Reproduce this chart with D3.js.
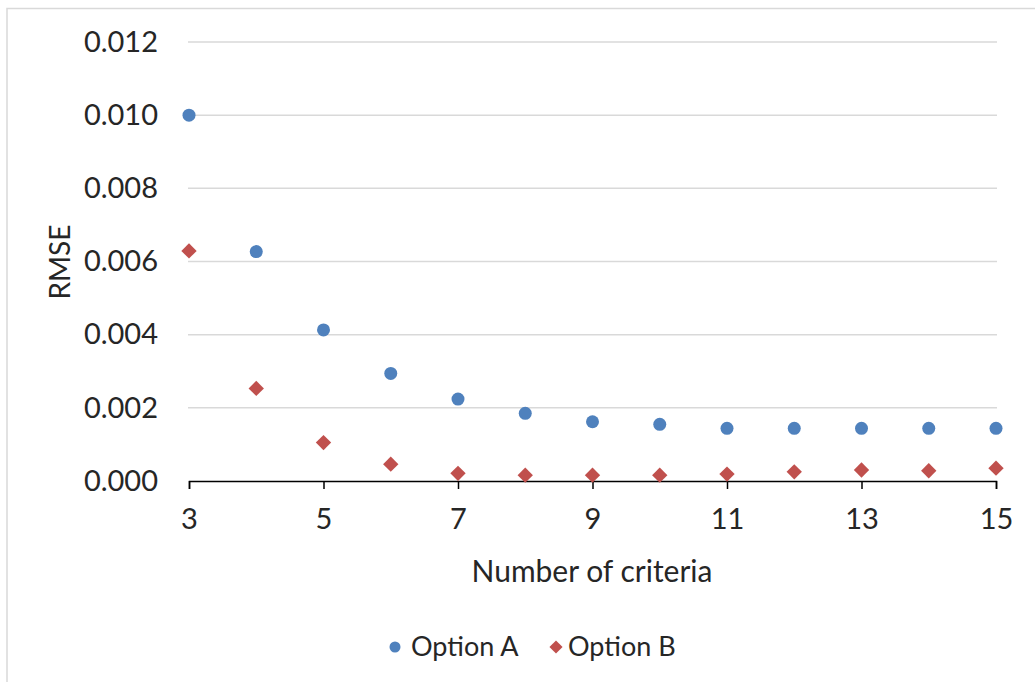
<!DOCTYPE html>
<html>
<head>
<meta charset="utf-8">
<script src="https://cdn.jsdelivr.net/npm/d3@7"></script>
<style>
  body { margin: 0; background: #fff; }
  svg text { font-family: Lato, "Open Sans", sans-serif; fill: #262626; }
</style>
</head>
<body>
<div id="chart"></div>
<script>
// data
const criteria = [3, 4, 5, 6, 7, 8, 9, 10, 11, 12, 13, 14, 15];
const optionA = [0.0100, 0.00627, 0.00413, 0.00294, 0.00224, 0.00185, 0.00162, 0.00155, 0.00144, 0.00144, 0.00144, 0.00144, 0.00144];
const optionB = [0.00629, 0.00253, 0.00105, 0.00046, 0.00021, 0.00016, 0.00016, 0.00016, 0.00019, 0.00025, 0.00030, 0.00028, 0.00035];
const xTicks = [3, 5, 7, 9, 11, 13, 15];
const yTicks = [0, 0.002, 0.004, 0.006, 0.008, 0.010, 0.012];
const seriesNames = ["Option A", "Option B"];

const W = 1035, H = 682;
const margin = {top: 42, right: 39, bottom: 201, left: 189};

const svg = d3.select("#chart").append("svg")
    .attr("width", W)
    .attr("height", H);

// chart frame
svg.append("path")
    .attr("d", `M7,${H} V8.5 H${W}`)
    .attr("fill", "none")
    .attr("stroke", "#d9d9d9")
    .attr("stroke-width", 1.5);

const x = d3.scaleLinear().domain([3, 15]).range([margin.left, W - margin.right]);
const y = d3.scaleLinear().domain([0, 0.012]).range([H - margin.bottom, margin.top]);

// gridlines
svg.append("g")
    .selectAll("line")
    .data(yTicks.filter(d => d > 0))
    .join("line")
    .attr("x1", x(3) - 1)
    .attr("x2", x(15) + 1)
    .attr("y1", d => y(d))
    .attr("y2", d => y(d))
    .attr("stroke", "#d9d9d9")
    .attr("stroke-width", 1.5);

// y axis labels
const yAxis = d3.axisLeft(y).tickValues(yTicks).tickFormat(d3.format(".3f")).tickSize(0).tickPadding(31);
svg.append("g")
    .attr("transform", `translate(${margin.left},0)`)
    .call(yAxis)
    .call(g => g.select(".domain").remove())
    .call(g => g.selectAll("text").attr("font-size", 29).attr("fill", "#262626"));

// x axis
const xAxis = d3.axisBottom(x).tickValues(xTicks).tickSize(8).tickPadding(19);
svg.append("g")
    .attr("transform", `translate(0,${y(0)})`)
    .call(xAxis)
    .call(g => g.select(".domain").attr("stroke", "#000").attr("stroke-width", 1.5))
    .call(g => g.selectAll(".tick line").attr("stroke", "#000").attr("stroke-width", 1.5))
    .call(g => g.selectAll("text").attr("font-size", 29).attr("fill", "#262626"));

// axis titles
svg.append("text")
    .attr("x", 592)
    .attr("y", 571)
    .attr("dy", "0.35em")
    .attr("text-anchor", "middle")
    .attr("font-size", 30)
    .text("Number of criteria");

svg.append("text")
    .attr("transform", "translate(60,262) rotate(-90)")
    .attr("dy", "0.35em")
    .attr("text-anchor", "middle")
    .attr("font-size", 28)
    .text("RMSE");

const blue = "#4f81bd", red = "#c0504d";
const diamond = d3.symbol().type(d3.symbolDiamond2).size(150);

// series A: circles
svg.append("g")
    .selectAll("circle")
    .data(criteria.map((c, i) => [c, optionA[i]]))
    .join("circle")
    .attr("cx", d => x(d[0]))
    .attr("cy", d => y(d[1]))
    .attr("r", 6.5)
    .attr("fill", blue);

// series B: diamonds
svg.append("g")
    .selectAll("path")
    .data(criteria.map((c, i) => [c, optionB[i]]))
    .join("path")
    .attr("d", diamond)
    .attr("transform", d => `translate(${x(d[0])},${y(d[1])})`)
    .attr("fill", red);

// legend
const legend = svg.append("g").attr("transform", "translate(0,647)");
legend.append("circle").attr("cx", 395).attr("cy", 0).attr("r", 5.5).attr("fill", blue);
legend.append("text").attr("x", 411).attr("dy", "0.35em").attr("font-size", 27).text(seriesNames[0]);
legend.append("path").attr("d", d3.symbol().type(d3.symbolDiamond2).size(110)).attr("transform", "translate(556,0)").attr("fill", red);
legend.append("text").attr("x", 568).attr("dy", "0.35em").attr("font-size", 27).text(seriesNames[1]);
</script>
</body>
</html>
